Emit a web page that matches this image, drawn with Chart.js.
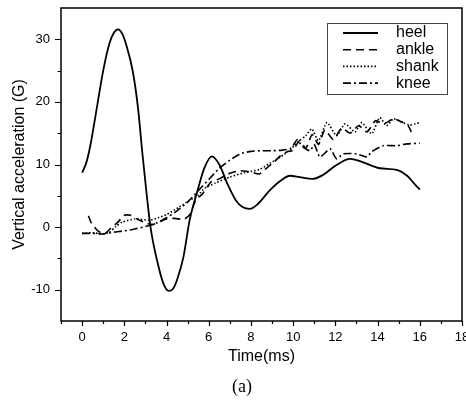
<!DOCTYPE html>
<html>
<head>
<meta charset="utf-8">
<script src="https://cdn.jsdelivr.net/npm/chart.js@4"></script>
<style>
  html, body { margin: 0; padding: 0; background: #fff; }
  canvas { display: block; }
</style>
</head>
<body>
<canvas id="chart" width="466" height="400"></canvas>
<script>
// time (ms) and vertical acceleration (G)
const heelT = [0, 0.2, 0.4, 0.7, 1.0, 1.3, 1.5, 1.7, 1.9, 2.1, 2.4, 2.65, 2.85, 3.05, 3.25, 3.55, 3.85, 4.1, 4.3, 4.5, 4.8, 5.1, 5.45, 5.8, 6.15, 6.5, 6.9, 7.3, 7.6, 7.95, 8.3, 8.9, 9.4, 9.85, 10.3, 10.9, 11.4, 12.0, 12.7, 13.2, 14.1, 14.9, 15.4, 15.8, 16.0];
const heelG = [8.7, 10.3, 13.2, 19.1, 25.0, 29.4, 31.0, 31.6, 30.9, 29.0, 24.9, 19.0, 12.0, 5.5, -0.2, -5.3, -9.0, -10.2, -9.9, -8.4, -4.8, 1.2, 5.6, 9.5, 11.3, 10.0, 6.8, 4.2, 3.2, 2.9, 3.6, 5.9, 7.4, 8.2, 8.0, 7.7, 8.3, 9.8, 10.9, 10.5, 9.4, 9.15, 8.2, 6.7, 6.0];

const ankleT = [0.3, 0.45, 0.75, 1.05, 1.35, 1.7, 2.0, 2.3, 2.6, 3.0, 3.35, 3.7, 4.0, 4.4, 4.8, 5.1, 5.4, 5.7, 6.1, 6.5, 7.0, 7.5, 8.0, 8.4, 8.8, 9.1, 9.4, 9.7, 10.0, 10.3, 10.6, 10.9, 11.2, 11.5, 11.9, 12.3, 12.7, 13.1, 13.5, 13.9, 14.3, 14.75, 15.2, 15.45, 15.6];
const ankleG = [1.8, 0.6, -0.6, -1.1, -0.2, 0.8, 1.9, 1.9, 1.3, 0.7, 0.4, 0.9, 1.3, 1.4, 1.2, 2.0, 4.4, 5.3, 7.2, 7.7, 8.6, 9.0, 8.8, 8.5, 9.6, 10.4, 11.4, 12.0, 12.3, 13.8, 12.6, 14.8, 13.2, 15.5, 14.0, 15.8, 15.0, 16.2, 15.2, 17.0, 16.5, 17.3, 16.7, 16.2, 15.2];

const shankT = [0, 0.5, 1.0, 1.3, 1.6, 1.9, 2.5, 3.2, 3.6, 4.0, 4.6, 5.1, 5.5, 5.8, 6.3, 7.0, 7.7, 8.4, 8.9, 9.4, 9.9, 10.3, 10.6, 10.88, 11.2, 11.6, 12.06, 12.46, 12.93, 13.25, 13.72, 14.1, 14.43, 14.75, 15.2, 15.5, 15.8, 16.0];
const shankG = [-1.0, -0.9, -1.1, -0.8, 0.1, 0.8, 1.3, 1.1, 1.5, 2.0, 3.2, 4.3, 5.1, 6.2, 7.0, 8.0, 8.7, 9.2, 10.2, 11.2, 12.5, 13.8, 14.6, 15.7, 13.8, 16.7, 14.6, 16.5, 15.2, 16.7, 14.9, 17.5, 16.2, 17.3, 16.7, 16.3, 16.5, 16.7];

const kneeT = [0, 0.5, 1.0, 1.5, 2.0, 2.5, 3.0, 3.5, 4.0, 4.5, 5.0, 5.5, 6.0, 6.5, 7.0, 7.5, 8.0, 8.5, 9.0, 9.5, 9.9, 10.2, 10.4, 10.8, 11.0, 11.27, 11.75, 12.06, 12.38, 13.0, 13.5, 13.7, 14.27, 14.9, 15.4, 16.0];
const kneeG = [-1.0, -1.0, -1.1, -0.8, -0.6, -0.3, 0.1, 0.6, 1.5, 2.6, 4.0, 5.8, 7.6, 9.4, 10.7, 11.7, 12.1, 12.2, 12.2, 12.3, 12.6, 14.0, 13.0, 12.2, 13.2, 11.2, 12.5, 10.9, 11.7, 11.7, 11.2, 12.0, 13.0, 13.0, 13.3, 13.4];

const labels = ["heel", "ankle", "shank", "knee"];
const xTickLabels = [0, 2, 4, 6, 8, 10, 12, 14, 16, 18];
const yTickLabels = [-10, 0, 10, 20, 30];

const pts = (t, g) => t.map((v, i) => ({ x: v, y: g[i] }));

// frame, outward tick marks (major + minor), legend box and "(a)"
const decorations = {
  id: "decorations",
  afterDraw(chart) {
    const ctx = chart.ctx;
    const area = chart.chartArea;
    const xs = chart.scales.x;
    const ys = chart.scales.y;
    ctx.save();
    ctx.strokeStyle = "#000";
    ctx.lineWidth = 1.5;
    ctx.strokeRect(area.left, area.top, area.right - area.left, area.bottom - area.top);

    ctx.lineWidth = 1.2;
    ctx.beginPath();
    xs.ticks.forEach((t) => {
      const px = Math.round(xs.getPixelForValue(t.value)) + 0.5;
      const len = xTickLabels.includes(t.value) ? 5 : 3;
      ctx.moveTo(px, area.bottom);
      ctx.lineTo(px, area.bottom + len);
    });
    ys.ticks.forEach((t) => {
      if (t.value <= ys.min || t.value >= ys.max) return;
      const py = Math.round(ys.getPixelForValue(t.value)) + 0.5;
      const len = yTickLabels.includes(t.value) ? 6 : 3.5;
      ctx.moveTo(area.left, py);
      ctx.lineTo(area.left - len, py);
    });
    ctx.stroke();

    // legend
    ctx.lineWidth = 1;
    ctx.strokeStyle = "#444";
    ctx.strokeRect(327.5, 23.5, 120, 71);
    ctx.font = "16px 'Liberation Sans', Arial, sans-serif";
    ctx.fillStyle = "#000";
    ctx.textBaseline = "middle";
    chart.data.datasets.forEach((ds, i) => {
      const y = 33 + i * 16.7;
      ctx.strokeStyle = "#000";
      ctx.lineWidth = ds.borderWidth;
      ctx.setLineDash(ds.borderDash || []);
      ctx.beginPath();
      ctx.moveTo(343, y);
      ctx.lineTo(378, y);
      ctx.stroke();
      ctx.setLineDash([]);
      ctx.fillText(ds.label, 396, y);
    });

    ctx.font = "18px 'Liberation Serif', 'Times New Roman', serif";
    ctx.textAlign = "center";
    ctx.fillText("(a)", 242, 387);
    ctx.restore();
  },
};

const tickFont = { family: "'Liberation Sans', Arial, sans-serif", size: 13 };
const titleFont = { family: "'Liberation Sans', Arial, sans-serif", size: 16 };

new Chart(document.getElementById("chart").getContext("2d"), {
  type: "line",
  data: {
    datasets: [
      { label: labels[0], data: pts(heelT, heelG), borderColor: "#000", borderWidth: 1.8, cubicInterpolationMode: "monotone" },
      { label: labels[1], data: pts(ankleT, ankleG), borderColor: "#000", borderWidth: 1.6, borderDash: [8, 5], tension: 0.2 },
      { label: labels[2], data: pts(shankT, shankG), borderColor: "#000", borderWidth: 1.6, borderDash: [1.5, 2], tension: 0.2 },
      { label: labels[3], data: pts(kneeT, kneeG), borderColor: "#000", borderWidth: 1.6, borderDash: [8, 3, 2, 3], tension: 0.2 },
    ],
  },
  options: {
    responsive: false,
    animation: false,
    devicePixelRatio: 1,
    layout: { padding: { top: 8, right: 4, left: 0, bottom: 0 } },
    elements: { point: { radius: 0 } },
    plugins: { legend: { display: false }, tooltip: { enabled: false } },
    scales: {
      x: {
        type: "linear",
        min: -1,
        max: 18,
        border: { display: false },
        grid: { drawOnChartArea: false, drawTicks: true, tickLength: 5, color: "transparent" },
        ticks: {
          stepSize: 1,
          autoSkip: false,
          maxRotation: 0,
          padding: 4,
          color: "#000",
          font: tickFont,
          callback: (v) => (xTickLabels.includes(v) ? String(v) : ""),
        },
        title: { display: true, text: "Time(ms)", color: "#000", font: titleFont, padding: { top: 0, bottom: 34 } },
        afterFit: (s) => {
          s.height = 79;
          s.paddingLeft = 0;
          s.paddingRight = 0;
        },
      },
      y: {
        min: -15,
        max: 35,
        border: { display: false },
        grid: { drawOnChartArea: false, drawTicks: true, tickLength: 6, color: "transparent" },
        ticks: {
          stepSize: 5,
          autoSkip: false,
          padding: 5,
          color: "#000",
          font: tickFont,
          callback: (v) => (yTickLabels.includes(v) ? String(v) : ""),
        },
        title: { display: true, text: "Vertical acceleration (G)", color: "#000", font: titleFont, padding: { top: 10, bottom: 0 } },
        afterFit: (s) => {
          s.width = 61;
          s.paddingTop = 0;
          s.paddingBottom = 0;
        },
      },
    },
  },
  plugins: [decorations],
});
</script>
</body>
</html>
